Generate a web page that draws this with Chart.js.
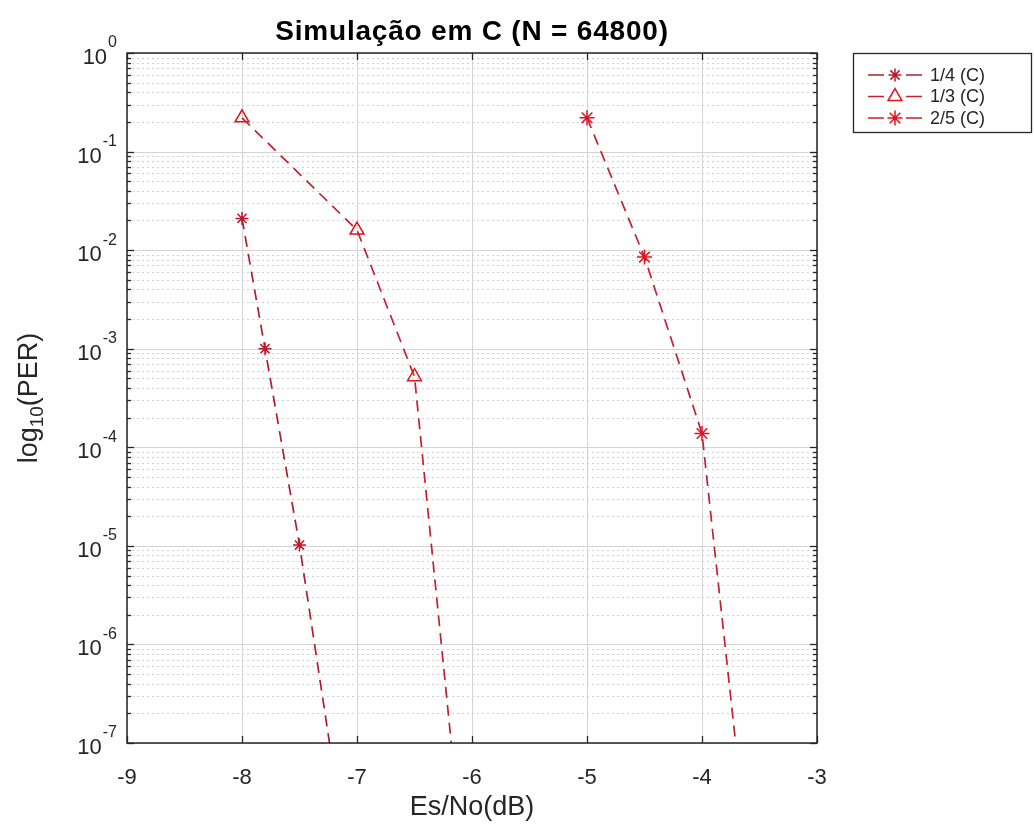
<!DOCTYPE html>
<html>
<head>
<meta charset="utf-8">
<script src="https://cdn.jsdelivr.net/npm/chart.js@4.4.1/dist/chart.umd.min.js"></script>
<style>
html, body { margin: 0; padding: 0; background: #ffffff; }
#wrap { position: relative; width: 1034px; height: 825px; }
</style>
</head>
<body>
<div id="wrap"><canvas id="c" width="1034" height="825"></canvas></div>
<script>
// Text
const titleText = 'Simulação em C (N = 64800)';
const xTitleText = 'Es/No(dB)';
const yTitleParts = ['log', '10', '(PER)'];

// Series: Es/No in dB and packet error rate
const seriesNames = ['1/4 (C)', '1/3 (C)', '2/5 (C)'];
const esno14 = [-8, -7.8, -7.5, -7.2];
const per14 = [2.1e-2, 1.0e-3, 1.02e-5, 5e-8];
const esno13 = [-8, -7, -6.5, -6];
const per13 = [0.22, 1.6e-2, 5.2e-4, 8e-10];
const esno25 = [-5, -4.5, -4, -3.5];
const per25 = [0.22, 8.5e-3, 1.38e-4, 6e-10];

// Axes
const xTickValues = [-9, -8, -7, -6, -5, -4, -3];
const yExponents = [0, -1, -2, -3, -4, -5, -6, -7];

const FONT = '"Liberation Sans", Arial, Helvetica, sans-serif';
const AXIS_COLOR = '#262626';
const LINE_COLORS = ['#b01e2e', '#c42030', '#c42030'];
const MARK_COLORS = ['#c0182a', '#e3121f', '#e3121f'];

function pts(xs, ys) { return xs.map((x, i) => ({ x: x, y: ys[i] })); }

const markerStyles = ['star', 'triangle', 'star'];
const markerSizes = [6.5, 8, 7.5];

// Grid, box and inward ticks of a boxed log plot
const boxAxes = {
  id: 'boxAxes',
  beforeDatasetsDraw(chart) {
    const { ctx, chartArea: a, scales: { x, y } } = chart;
    ctx.save();
    ctx.lineWidth = 1;
    // minor horizontal grid (dotted)
    ctx.strokeStyle = 'rgba(140,140,140,0.4)';
    ctx.setLineDash([2, 3]);
    yExponents.forEach(e => {
      if (e === 0) return;
      for (let m = 2; m <= 9; m++) {
        const py = Math.round(y.getPixelForValue(m * Math.pow(10, e))) + 0.5;
        ctx.beginPath(); ctx.moveTo(a.left, py); ctx.lineTo(a.right, py); ctx.stroke();
      }
    });
    ctx.setLineDash([]);
    // major grid (solid)
    ctx.strokeStyle = '#d4d4d4';
    yExponents.forEach(e => {
      const py = Math.round(y.getPixelForValue(Math.pow(10, e))) + 0.5;
      ctx.beginPath(); ctx.moveTo(a.left, py); ctx.lineTo(a.right, py); ctx.stroke();
    });
    xTickValues.forEach(v => {
      const px = Math.round(x.getPixelForValue(v)) + 0.5;
      ctx.beginPath(); ctx.moveTo(px, a.top); ctx.lineTo(px, a.bottom); ctx.stroke();
    });
    ctx.restore();
  },
  afterDatasetsDraw(chart) {
    const { ctx, chartArea: a, scales: { x, y } } = chart;
    ctx.save();
    ctx.strokeStyle = AXIS_COLOR;
    ctx.lineWidth = 1.3;
    // x ticks, bottom and top
    xTickValues.forEach(v => {
      const px = Math.round(x.getPixelForValue(v)) + 0.5;
      ctx.beginPath(); ctx.moveTo(px, a.bottom); ctx.lineTo(px, a.bottom - 7); ctx.stroke();
      ctx.beginPath(); ctx.moveTo(px, a.top); ctx.lineTo(px, a.top + 7); ctx.stroke();
    });
    // y major ticks, left and right
    yExponents.forEach(e => {
      const py = Math.round(y.getPixelForValue(Math.pow(10, e))) + 0.5;
      ctx.beginPath(); ctx.moveTo(a.left, py); ctx.lineTo(a.left + 7, py); ctx.stroke();
      ctx.beginPath(); ctx.moveTo(a.right, py); ctx.lineTo(a.right - 7, py); ctx.stroke();
    });
    // y minor ticks
    yExponents.forEach(e => {
      if (e === 0) return;
      for (let m = 2; m <= 9; m++) {
        const pm = Math.round(y.getPixelForValue(m * Math.pow(10, e))) + 0.5;
        ctx.beginPath(); ctx.moveTo(a.left, pm); ctx.lineTo(a.left + 4, pm); ctx.stroke();
        ctx.beginPath(); ctx.moveTo(a.right, pm); ctx.lineTo(a.right - 4, pm); ctx.stroke();
      }
    });
    // box
    ctx.lineWidth = 1.5;
    ctx.strokeRect(a.left, a.top, a.right - a.left, a.bottom - a.top);
    ctx.restore();
  },
  afterDraw(chart) {
    const { ctx, chartArea: a, scales: { y } } = chart;
    ctx.save();
    ctx.fillStyle = AXIS_COLOR;
    // y tick labels: 10 with superscript exponent
    yExponents.forEach(e => {
      const py = y.getPixelForValue(Math.pow(10, e));
      const base = '10';
      const sup = String(e);
      ctx.font = '22px ' + FONT;
      const wb = ctx.measureText(base).width;
      ctx.font = '16px ' + FONT;
      const ws = ctx.measureText(sup).width;
      const right = a.left - 10;
      ctx.textBaseline = 'middle';
      ctx.textAlign = 'left';
      ctx.font = '16px ' + FONT;
      ctx.fillText(sup, right - ws, py - 10);
      ctx.font = '22px ' + FONT;
      ctx.fillText(base, right - ws - wb - 1, py + 5);
    });
    // title
    ctx.font = 'bold 28px ' + FONT;
    ctx.letterSpacing = '0.8px';
    ctx.textAlign = 'center';
    ctx.textBaseline = 'middle';
    ctx.fillStyle = '#000000';
    ctx.fillText(titleText, (a.left + a.right) / 2, 32);
    ctx.letterSpacing = '0px';
    // y axis title with subscript, rotated
    ctx.fillStyle = AXIS_COLOR;
    ctx.translate(30, (a.top + a.bottom) / 2);
    ctx.rotate(-Math.PI / 2);
    const fonts = ['27px ' + FONT, '19px ' + FONT, '27px ' + FONT];
    const widths = yTitleParts.map((t, i) => { ctx.font = fonts[i]; return ctx.measureText(t).width; });
    let cx = -widths.reduce((s, w) => s + w, 0) / 2;
    ctx.textAlign = 'left';
    yTitleParts.forEach((t, i) => {
      ctx.font = fonts[i];
      ctx.fillText(t, cx, i === 1 ? 8 : 0);
      cx += widths[i];
    });
    ctx.restore();

    // legend
    ctx.save();
    const lx = 853, ly = 53, lw = 178, lh = 79;
    ctx.fillStyle = '#ffffff';
    ctx.fillRect(lx, ly, lw, lh);
    ctx.strokeStyle = AXIS_COLOR;
    ctx.lineWidth = 1.3;
    ctx.strokeRect(lx + 0.5, ly + 0.5, lw, lh);
    chart.data.datasets.forEach((ds, i) => {
      const ry = ly + 22 + i * 21.5;
      ctx.strokeStyle = ds.borderColor;
      ctx.lineWidth = 1.5;
      ctx.setLineDash([]);
      ctx.beginPath(); ctx.moveTo(868, ry); ctx.lineTo(884, ry); ctx.stroke();
      ctx.beginPath(); ctx.moveTo(906, ry); ctx.lineTo(922, ry); ctx.stroke();
      ctx.strokeStyle = ds.pointBorderColor;
      ctx.fillStyle = 'rgba(0,0,0,0)';
      Chart.helpers.drawPoint(ctx, {
        pointStyle: ds.pointStyle, radius: ds.pointRadius, borderWidth: 1.5, rotation: 0
      }, 895, ry);
      ctx.fillStyle = AXIS_COLOR;
      ctx.font = '18px ' + FONT;
      ctx.textBaseline = 'middle';
      ctx.textAlign = 'left';
      ctx.fillText(ds.label, 930, ry + 1);
    });
    ctx.restore();
  }
};

const datasets = [pts(esno14, per14), pts(esno13, per13), pts(esno25, per25)].map((d, i) => ({
  label: seriesNames[i],
  data: d,
  showLine: true,
  borderColor: LINE_COLORS[i],
  borderWidth: 1.7,
  borderDash: [11, 7],
  pointStyle: markerStyles[i],
  pointRadius: markerSizes[i],
  pointBorderColor: MARK_COLORS[i],
  pointBackgroundColor: 'rgba(0,0,0,0)',
  pointBorderWidth: 1.5,
  tension: 0
}));

new Chart(document.getElementById('c'), {
  type: 'scatter',
  data: { datasets: datasets },
  plugins: [boxAxes],
  options: {
    responsive: false,
    animation: false,
    devicePixelRatio: 1,
    layout: { padding: { left: 0, right: 217, top: 53, bottom: 0 } },
    plugins: {
      legend: { display: false },
      title: { display: false },
      tooltip: { enabled: false }
    },
    scales: {
      x: {
        type: 'linear',
        min: -9, max: -3,
        afterBuildTicks(scale) { scale.ticks = xTickValues.map(v => ({ value: v })); },
        afterFit(scale) { scale.height = 82; },
        grid: { display: false },
        border: { display: false },
        ticks: {
          color: AXIS_COLOR,
          font: { family: FONT, size: 22 },
          padding: 14,
          maxRotation: 0,
          callback: v => String(v)
        },
        title: {
          display: true,
          text: xTitleText,
          color: AXIS_COLOR,
          font: { family: FONT, size: 27 },
          padding: { top: 0, bottom: 1 }
        }
      },
      y: {
        type: 'logarithmic',
        min: 1e-7, max: 1,
        afterFit(scale) { scale.width = 127; },
        grid: { display: false },
        border: { display: false },
        ticks: { display: false }
      }
    }
  }
});
</script>
</body>
</html>
